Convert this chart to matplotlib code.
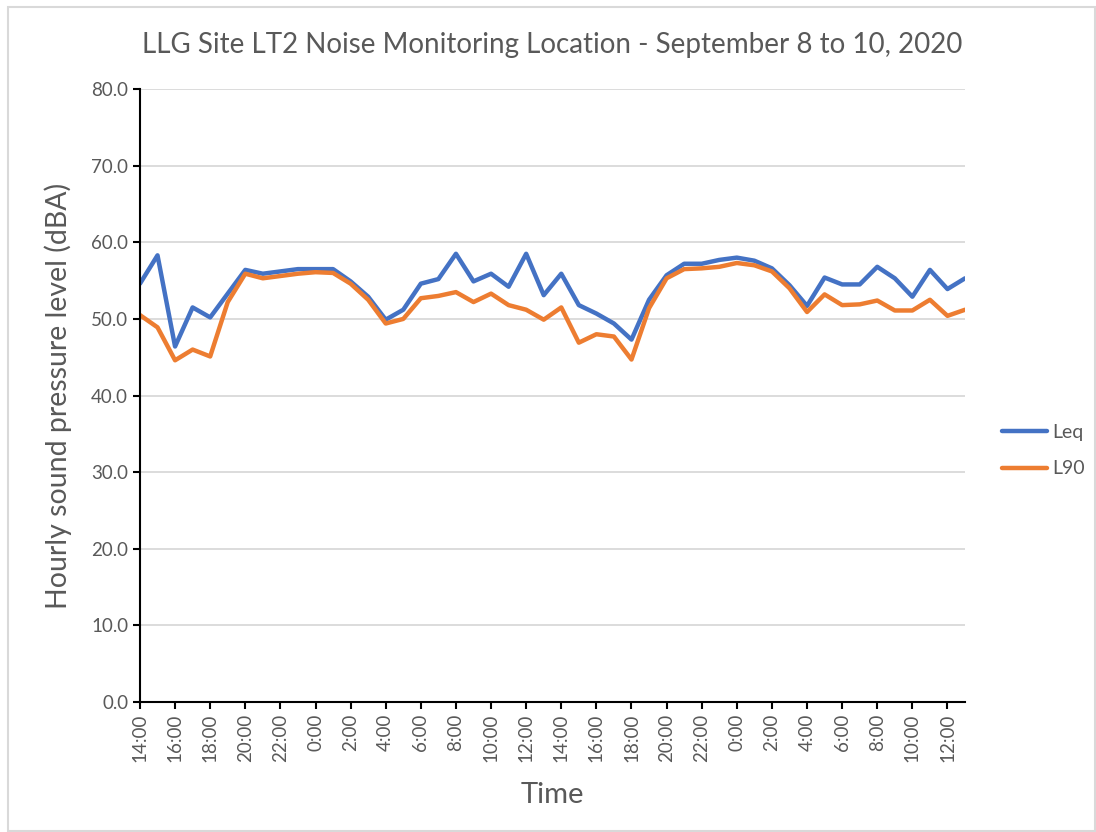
import matplotlib
matplotlib.use("Agg")
import matplotlib.pyplot as plt
from matplotlib.patches import Rectangle

# hourly readings, 14:00 Sep 8 to 13:00 Sep 10
times = ["14:00", "15:00", "16:00", "17:00", "18:00", "19:00", "20:00", "21:00",
         "22:00", "23:00", "0:00", "1:00", "2:00", "3:00", "4:00", "5:00",
         "6:00", "7:00", "8:00", "9:00", "10:00", "11:00", "12:00", "13:00",
         "14:00", "15:00", "16:00", "17:00", "18:00", "19:00", "20:00", "21:00",
         "22:00", "23:00", "0:00", "1:00", "2:00", "3:00", "4:00", "5:00",
         "6:00", "7:00", "8:00", "9:00", "10:00", "11:00", "12:00", "13:00"]

leq = [54.6, 58.3, 46.4, 51.5, 50.2, 53.3, 56.4, 55.9, 56.2, 56.5, 56.5, 56.5,
       54.9, 52.9, 49.9, 51.2, 54.6, 55.2, 58.5, 54.9, 55.9, 54.2, 58.5, 53.1,
       55.9, 51.8, 50.7, 49.4, 47.3, 52.5, 55.7, 57.2, 57.2, 57.7, 58.0, 57.6,
       56.6, 54.4, 51.7, 55.4, 54.5, 54.5, 56.8, 55.3, 52.9, 56.4, 53.9, 55.3]

l90 = [50.5, 48.9, 44.6, 46.0, 45.1, 52.2, 55.9, 55.3, 55.6, 55.9, 56.1, 56.0,
       54.6, 52.5, 49.4, 50.0, 52.7, 53.0, 53.5, 52.2, 53.3, 51.8, 51.2, 49.9,
       51.5, 46.9, 48.0, 47.7, 44.7, 51.4, 55.3, 56.5, 56.6, 56.8, 57.3, 57.0,
       56.2, 54.0, 50.9, 53.2, 51.8, 51.9, 52.4, 51.1, 51.1, 52.5, 50.4, 51.2]

grey = "#595959"
plt.rcParams["font.family"] = ["Lato", "DejaVu Sans"]

fig = plt.figure(figsize=(10.96, 8.32), dpi=100)
ax = fig.add_axes([0.1277, 0.15625, 0.7528, 0.7367])

# light frame round the chart area
fig.patches.append(Rectangle((8 / 1096, 1 / 832), 1087 / 1096, 824 / 832,
                             transform=fig.transFigure, fill=False,
                             edgecolor="#d9d9d9", linewidth=1.5))

x = list(range(len(times)))
ax.plot(x, leq, color="#4472C4", lw=3.2, label="Leq", solid_capstyle="round")
ax.plot(x, l90, color="#ED7D31", lw=3.2, label="L90", solid_capstyle="round")

ax.set_xlim(0, len(times) - 1)
ax.set_ylim(0, 80)
ax.set_yticks(range(0, 81, 10))
ax.set_yticklabels([f"{v:.1f}" for v in range(0, 81, 10)])
ax.set_xticks(x[::2])
ax.set_xticklabels(times[::2], rotation=90)

ax.grid(axis="y", color="#d9d9d9", lw=1.3)
ax.set_axisbelow(True)
for s in ["top", "right"]:
    ax.spines[s].set_visible(False)
for s in ["left", "bottom"]:
    ax.spines[s].set_color("black")
    ax.spines[s].set_linewidth(1.5)
ax.tick_params(axis="both", colors="black", labelcolor=grey, labelsize=13.5,
               length=5, width=1.5, direction="out")

ax.set_title("LLG Site LT2 Noise Monitoring Location - September 8 to 10, 2020",
             fontsize=20, color=grey, pad=26)
ax.set_ylabel("Hourly sound pressure level (dBA)", fontsize=20.5, color=grey, labelpad=14)
ax.set_xlabel("Time", fontsize=21, color=grey, labelpad=14)

ax.legend(loc="center left", bbox_to_anchor=(1.024, 0.41), frameon=False,
          fontsize=14, labelcolor=grey, handlelength=2.3, labelspacing=1.0,
          handletextpad=0.25)

fig.savefig("out.png", dpi=100)
